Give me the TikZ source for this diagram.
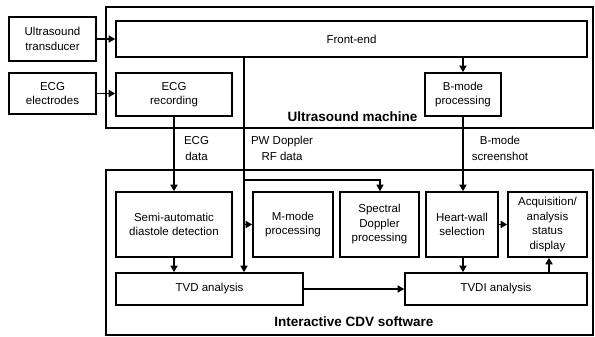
\documentclass[tikz,border=0pt]{standalone}
\usepackage{fontspec}
\setmainfont{Liberation Sans}
\usetikzlibrary{arrows.meta,calc}
\begin{document}
\begin{tikzpicture}[x=1pt,y=-1pt,
  blk/.style={draw,line width=1.6pt,minimum width=#1,inner sep=1pt,align=center,
    font=\fontsize{11.5}{14.5}\selectfont},
  frame/.style={draw,line width=2.9pt},
  conn/.style={line width=1.5pt,-{Triangle[length=6.5pt,width=7pt]}},
  lbl/.style={align=center,font=\fontsize{11.5}{16}\selectfont},
  title/.style={font=\fontsize{13.5}{16}\selectfont\bfseries}]
\useasboundingbox (0,0) rectangle (595,337);

% outer frames
\node[frame,minimum width=487pt,minimum height=121pt,inner sep=0pt] (usm) at (349.5,67.5) {};
\node[frame,minimum width=487pt,minimum height=165pt,inner sep=0pt] (cdv) at (349.5,252.5) {};
\node[title,anchor=east] (usmt) at (421,117) {Ultrasound machine};
\node[title,anchor=east] (cdvt) at (437,322) {Interactive CDV software};

% inputs
\node[blk=87pt,minimum height=44pt] (trans) at (52.5,39) {Ultrasound\\transducer};
\node[blk=87pt,minimum height=41pt] (elec) at (52.5,93.5) {ECG\\electrodes};

% ultrasound machine blocks
\node[blk=471pt,minimum height=36pt] (fe) at (351.5,39) {Front-end};
\node[blk=116pt,minimum height=43pt] (ecg) at (174,94.5) {ECG\\recording};
\node[blk=76pt,minimum height=43pt] (bm) at (463,94.5) {B-mode\\processing};

% software blocks
\node[blk=116pt,minimum height=65pt] (semi) at (174,224.5) {Semi-automatic\\diastole detection};
\node[blk=80pt,minimum height=65pt] (mm) at (293,224.5) {M-mode\\processing};
\node[blk=79pt,minimum height=65pt] (sd) at (379.5,224.5) {Spectral\\Doppler\\processing};
\node[blk=72pt,minimum height=65pt] (hw) at (462,224.5) {Heart-wall\\selection};
\node[blk=79pt,minimum height=65pt] (acq) at (547.5,224.5) {Acquisition/\\analysis\\status\\display};
\node[blk=187pt,minimum height=32pt] (tvd) at (209.5,289) {TVD analysis};
\node[blk=182pt,minimum height=32pt] (tvdi) at (496,289) {TVDI analysis};

% data labels
\node[lbl] (ecgl) at (196.5,148.5) {ECG\\data};
\node[lbl] (pwl) at (282,148.5) {PW Doppler\\RF data};
\node[lbl] (bml) at (500,148.5) {B-mode\\screenshot};

% connectors
\coordinate (pw) at (244,0);
\coordinate (hx) at (463,0);
\coordinate (sx) at (380,0);
\coordinate (ax) at (549,0);
\coordinate (br) at (244,180);
\draw[conn] (trans.east) -- (fe.west);
\draw[conn] (elec.east) -- (elec.east -| ecg.west);
\draw[conn] (fe.south -| hx) -- (bm.north -| hx);
\draw[conn] (ecg.south) -- (semi.north);
\draw[conn] (fe.south -| pw) -- (tvd.north -| pw);
\draw[conn] (mm.west -| pw) -- (mm.west);
\draw[conn,line width=1.1pt] (br) -| (sd.north -| sx);
\draw[conn] (bm.south -| hx) -- (hw.north -| hx);
\draw[conn] (semi.south) -- (tvd.north -| semi.south);
\draw[conn] (hw.south -| hx) -- (tvdi.north -| hx);
\draw[conn] (hw.east) -- (acq.west);
\draw[conn] (tvdi.north -| ax) -- (acq.south -| ax);
\draw[conn] (tvd.east) -- (tvdi.west);
\end{tikzpicture}
\end{document}
